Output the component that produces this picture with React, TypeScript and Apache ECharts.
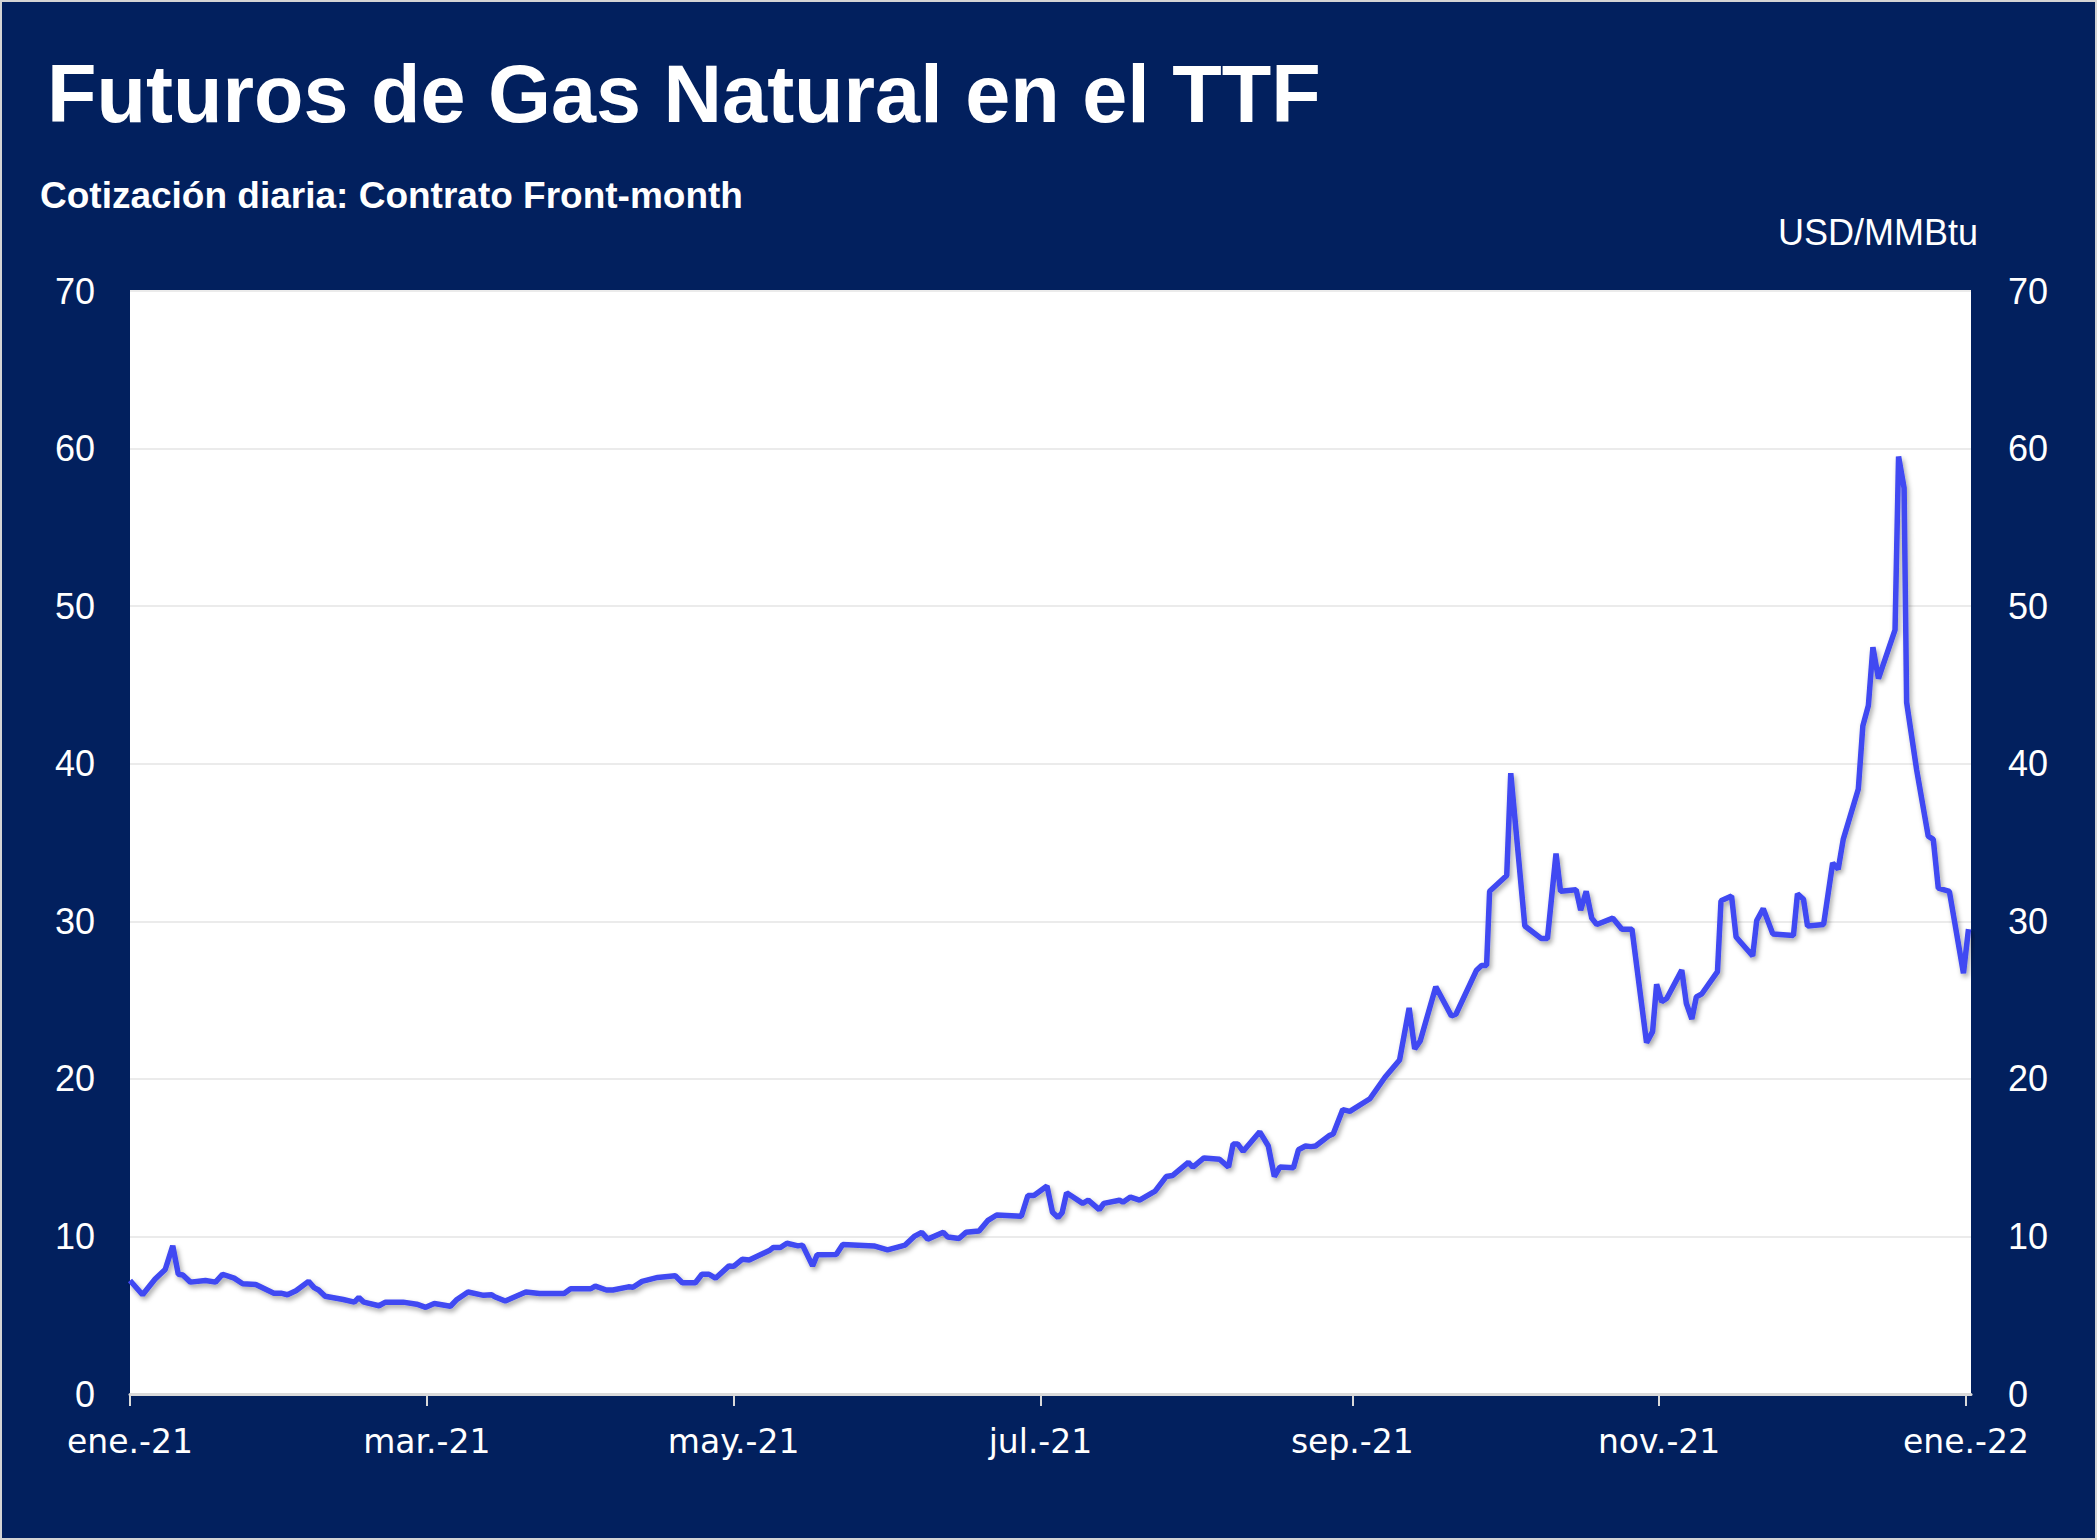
import { useEffect, useRef } from 'react';
import * as echarts from 'echarts';

// days elapsed since 1 Jan 2021, and front-month TTF settlement (USD/MMBtu)
const days = [
  0, 2.5, 4, 5, 7, 8.5, 9.6, 10.5, 12, 15, 17, 18.4, 20.7, 22.4, 25, 28.6, 30, 31.3, 33, 35.5,
  36.6, 37.5, 38.8, 42.4, 44.6, 45.5, 46.5, 49.5, 50.8, 54.3, 57, 58.8, 60.5, 63.7, 65, 67.2,
  70.3, 71.9, 72.5, 74.6, 78.7, 81.4, 86.3, 87.6, 91.6, 92.5, 94.7, 96, 99.1, 100, 101.8, 104.9,
  108.4, 109.8, 112.4, 113.7, 115.1, 116.4, 119.1, 120, 121.7, 123.1, 127.1, 127.9, 129.3, 130.6,
  132.8, 133.7, 135.7, 136.6, 140.4, 141.7, 147.9, 150.6, 154.1, 155.9, 157.4, 158.6, 161.7,
  162.6, 164.8, 166.2, 168.8, 170.5, 172.3, 177.2, 178.5, 179.7, 182.3, 183.4, 184.5, 185.3,
  186.2, 189.4, 190.5, 192.7, 193.6, 196.7, 197.4, 198.9, 200.7, 203.8, 206, 207.3, 210.4,
  211.3, 213.5, 216.6, 218.4, 219.3, 220.2, 221.3, 224.6, 226.3, 227.5, 228.6, 231.3, 232.3,
  233.7, 234.8, 235.7, 238.4, 239.2, 241.1, 242.5, 246.5, 249.5, 252.4, 254.3, 255.4, 256.5,
  259.6, 262.7, 263.6, 267.7, 268.7, 269.7, 270.3, 273.7, 274.5, 277.3, 280.6, 281.8, 283.5,
  284.4, 287.5, 288.4, 289.5, 290.6, 291.6, 294.8, 296.6, 298.6, 301.5, 302.7, 303.5, 304.5,
  305.5, 308.5, 309.4, 310.5, 311.4, 312.5, 315.6, 316.3, 318.4, 319.3, 322.6, 323.4, 324.7,
  326.6, 330.7, 331.5, 332.7, 333.5, 336.7, 338.5, 339.6, 340.6, 343.6, 344.5, 345.6, 346.5,
  347.6, 350.9, 351.6, 352.7, 353.2, 355.2, 357.5, 358.5, 359.5, 361.7, 364.5, 365.5,
];

const prices = [
  7.2, 6.3, 6.9, 7.3, 7.9, 9.4, 7.6, 7.55, 7.1, 7.2, 7.1, 7.6, 7.35, 7.0, 6.95, 6.4, 6.4, 6.3, 6.55, 7.15,
  6.75, 6.6, 6.2, 6.0, 5.83, 6.13, 5.83, 5.6, 5.83, 5.83, 5.7, 5.5, 5.74, 5.57, 6.0, 6.47,
  6.26, 6.3, 6.17, 5.9, 6.47, 6.38, 6.38, 6.68, 6.68, 6.85, 6.6, 6.6, 6.8, 6.77, 7.15, 7.4,
  7.5, 7.06, 7.06, 7.6, 7.6, 7.35, 8.13, 8.1, 8.55, 8.5, 9.1, 9.3, 9.3, 9.57,
  9.4, 9.45, 8.13, 8.83, 8.85, 9.49, 9.4, 9.15, 9.45, 10.0, 10.26, 9.83, 10.26,
  9.96, 9.87, 10.26, 10.34, 11.0, 11.36, 11.28, 12.6, 12.6, 13.2, 11.53, 11.2, 11.5,
  12.77, 12.1, 12.3, 11.7, 12.1, 12.3, 12.17, 12.5, 12.3, 12.87, 13.8, 13.87, 14.7,
  14.4, 14.98, 14.9, 14.4, 15.87, 15.87, 15.4, 16.64, 15.74, 13.8, 14.4, 14.36, 15.5,
  15.74, 15.7, 15.74, 16.4, 16.5, 18.05, 17.94, 18.74, 20.1, 21.2, 24.5, 21.9, 22.4,
  25.85, 24.0, 24.1, 26.9, 27.2, 27.2, 31.9, 32.9, 39.4, 29.7, 28.9, 28.9, 34.3,
  31.9, 32.0, 30.7, 31.9, 30.2, 29.8, 30.2, 29.5, 29.5, 22.3, 23.0, 26.0, 24.9,
  25.1, 26.9, 24.8, 23.8, 25.2, 25.4, 26.8, 31.3, 31.6, 29.0, 27.8, 30.05, 30.8,
  29.2, 29.1, 31.75, 31.4, 29.7, 29.8, 33.7, 33.3, 35.2, 38.4, 42.4, 43.7, 47.4,
  45.4, 48.5, 59.5, 57.5, 43.9, 39.6, 35.4, 35.2, 32.1, 31.9, 26.7, 29.5,
];

// month starts (days since 1 Jan 2021) and their labels
const tickDays = [0, 59, 120, 181, 243, 304, 365];
const tickLabels = ['ene.-21', 'mar.-21', 'may.-21', 'jul.-21', 'sep.-21', 'nov.-21', 'ene.-22'];

const NAVY = '#02205e';
const LINE = '#3f48f2';

export default function App() {
  const chartDiv = useRef<HTMLDivElement>(null);

  useEffect(() => {
    document.body.style.margin = '0';
    if (!chartDiv.current) return;
    const chart = echarts.init(chartDiv.current, null, { renderer: 'svg' });

    const yLabel = {
      color: '#ffffff',
      fontSize: 36,
      fontFamily: '"Liberation Sans", Arial, sans-serif',
    };

    chart.setOption({
      animation: false,
      backgroundColor: NAVY,
      grid: {
        left: 130,
        right: 126,
        top: 291,
        bottom: 146,
        show: true,
        backgroundColor: '#ffffff',
        borderWidth: 0,
      },
      graphic: [
        {
          type: 'text',
          x: 47,
          y: 94,
          style: {
            text: 'Futuros de Gas Natural en el TTF',
            fill: '#ffffff',
            fontSize: 81,
            fontWeight: 'bold',
            fontFamily: '"Liberation Sans", Arial, sans-serif',
            verticalAlign: 'middle',
          },
        },
        {
          type: 'text',
          x: 40,
          y: 195,
          style: {
            text: 'Cotización diaria: Contrato Front-month',
            fill: '#ffffff',
            fontSize: 37,
            fontWeight: 'bold',
            fontFamily: '"Liberation Sans", Arial, sans-serif',
            verticalAlign: 'middle',
          },
        },
        {
          type: 'text',
          x: 1978,
          y: 232,
          style: {
            text: 'USD/MMBtu',
            fill: '#ffffff',
            fontSize: 36,
            fontFamily: '"Liberation Sans", Arial, sans-serif',
            align: 'right',
            verticalAlign: 'middle',
          },
        },
        {
          type: 'rect',
          z: 100,
          silent: true,
          shape: { x: 1, y: 1, width: 2095, height: 1538 },
          style: { fill: 'none', stroke: '#d4d4d4', lineWidth: 2 },
        },
      ],
      xAxis: {
        type: 'value',
        min: 0,
        max: 366,
        splitLine: { show: false },
        axisLine: { lineStyle: { color: '#d9d9d9', width: 3 } },
        axisTick: {
          customValues: tickDays,
          length: 12,
          lineStyle: { color: '#d9d9d9', width: 2 },
        },
        axisLabel: {
          customValues: tickDays,
          margin: 31,
          color: '#ffffff',
          fontSize: 33,
          fontFamily: '"DejaVu Sans", sans-serif',
          formatter: (v: number) => tickLabels[tickDays.indexOf(Math.round(v))] ?? '',
        },
      },
      yAxis: [
        {
          type: 'value',
          min: 0,
          max: 70,
          interval: 10,
          position: 'left',
          axisLine: { show: false },
          axisTick: { show: false },
          axisLabel: { ...yLabel, margin: 35 },
          splitLine: { lineStyle: { color: '#ebebeb', width: 2 } },
        },
        {
          type: 'value',
          min: 0,
          max: 70,
          interval: 10,
          position: 'right',
          axisLine: { show: false },
          axisTick: { show: false },
          axisLabel: { ...yLabel, margin: 37 },
          splitLine: { show: false },
        },
      ],
      series: [
        {
          type: 'line',
          data: days.map((d, i) => [d, prices[i]]),
          showSymbol: false,
          symbol: 'none',
          lineStyle: {
            color: LINE,
            width: 5.5,
            shadowColor: 'rgba(0,0,0,0.35)',
            shadowBlur: 5,
            shadowOffsetX: 2,
            shadowOffsetY: 3,
          },
        },
      ],
    });

    return () => chart.dispose();
  }, []);

  return <div ref={chartDiv} style={{ width: 2097, height: 1540 }} />;
}
